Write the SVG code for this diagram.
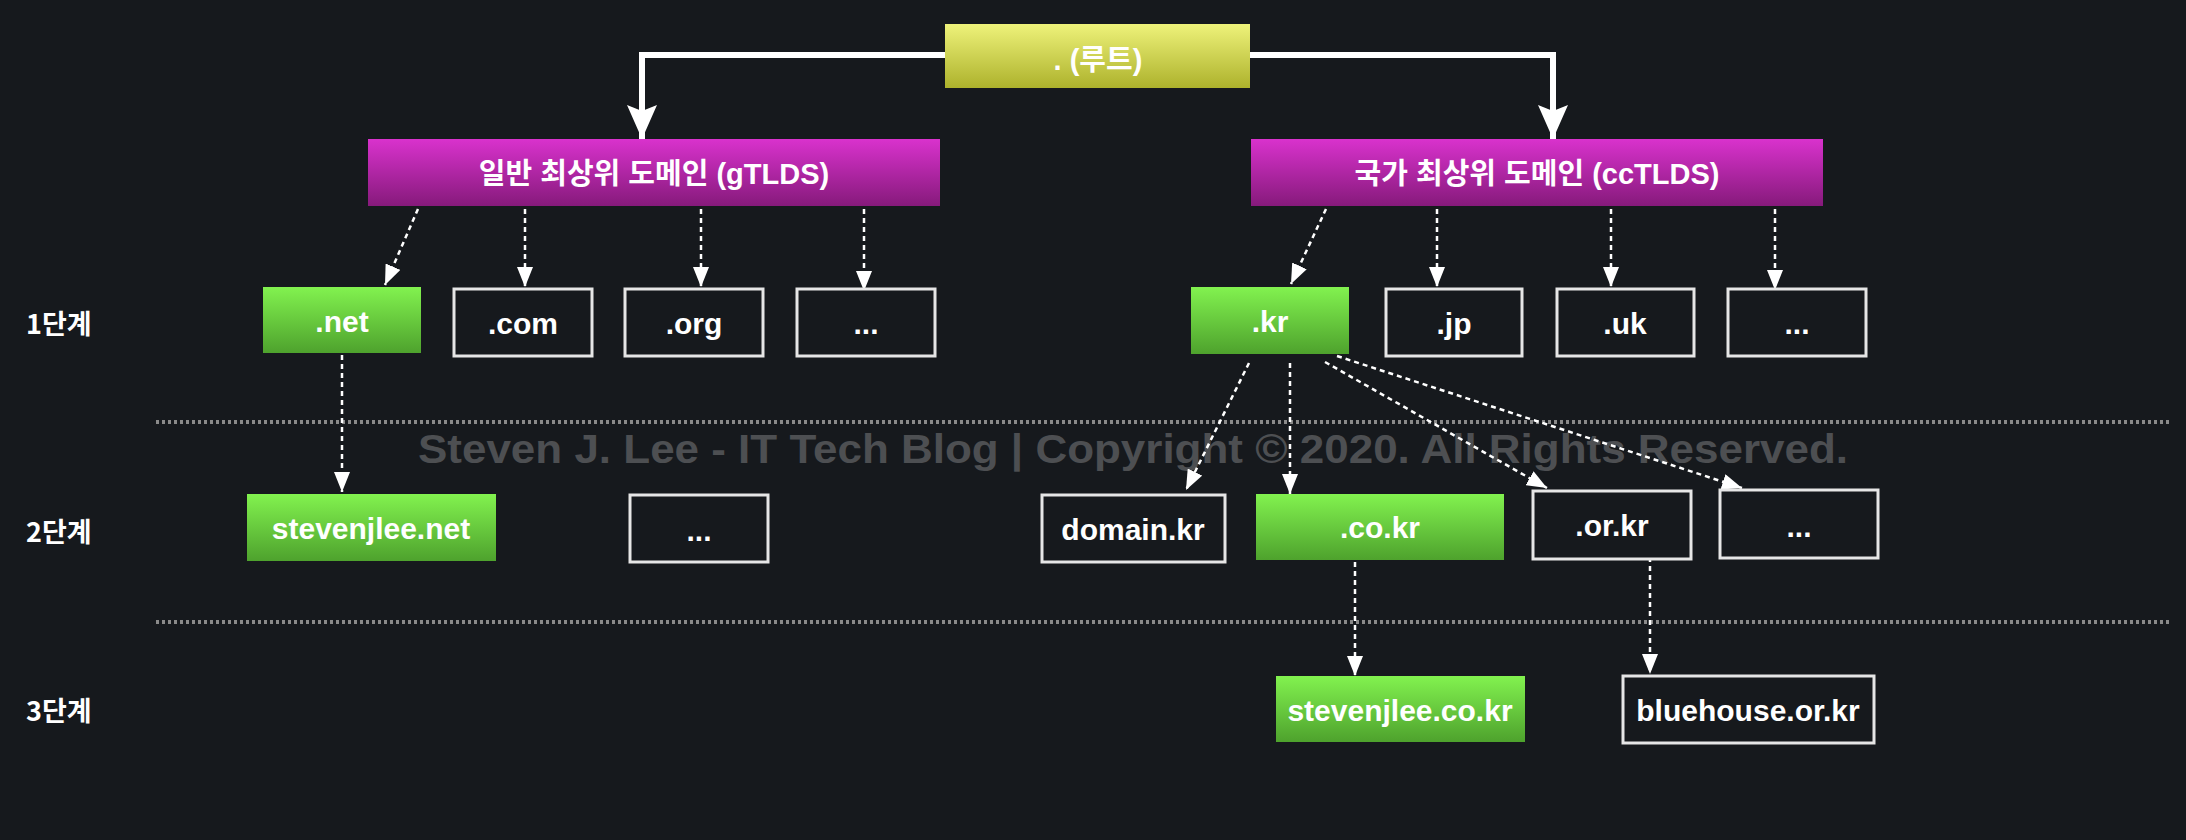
<svg xmlns="http://www.w3.org/2000/svg" width="2186" height="840" viewBox="0 0 2186 840">
<defs>
<linearGradient id="gY" x1="0" y1="0" x2="0" y2="1"><stop offset="0" stop-color="#eef27a"/><stop offset="1" stop-color="#adb22c"/></linearGradient>
<linearGradient id="gM" x1="0" y1="0" x2="0" y2="1"><stop offset="0" stop-color="#d932cd"/><stop offset="1" stop-color="#861a7b"/></linearGradient>
<linearGradient id="gG" x1="0" y1="0" x2="0" y2="1"><stop offset="0" stop-color="#82f24f"/><stop offset="1" stop-color="#4ea22d"/></linearGradient>
<marker id="big" markerUnits="userSpaceOnUse" markerWidth="34" markerHeight="40" refX="34" refY="17" orient="auto" viewBox="0 0 34 34"><path d="M0,2 L34,17 L0,32 L6,17 Z" fill="#ffffff"/></marker>
<marker id="sm" markerUnits="userSpaceOnUse" markerWidth="20" markerHeight="16" refX="20" refY="8" orient="auto" viewBox="0 0 20 16"><path d="M0,0 L20,8 L0,16 Z" fill="#ffffff"/></marker>
<style>
.bg{fill:#16191d}
.t{font-family:"Liberation Sans","Noto Sans CJK KR",Arial,sans-serif;font-weight:bold;fill:#ffffff;text-anchor:middle;dominant-baseline:central}
.lv{font-family:"Noto Sans CJK KR","Liberation Sans",sans-serif;font-weight:bold;fill:#ffffff;font-size:27px;dominant-baseline:central}
.out{fill:#16191d;stroke:#e6e6e6;stroke-width:3}
.grn{fill:url(#gG)}
.sep{stroke:#8a8a8a;stroke-width:4;stroke-dasharray:3 3;fill:none}
.dash{stroke:#ffffff;stroke-width:2.5;stroke-dasharray:5 4;fill:none;marker-end:url(#sm)}
.solid{stroke:#ffffff;stroke-width:6;fill:none;marker-end:url(#big)}
.wm{font-family:"Liberation Sans",Arial,sans-serif;font-weight:bold;fill:#4d4f52;font-size:40px}
</style>
</defs>
<rect class="bg" x="0" y="0" width="2186" height="840"/>

<g id="separators">
<line class="sep" x1="156" y1="422" x2="2170" y2="422"/>
<line class="sep" x1="156" y1="622" x2="2170" y2="622"/>
</g>

<g id="levels">
<text class="lv" x="26" y="322">1단계</text>
<text class="lv" x="26" y="530">2단계</text>
<text class="lv" x="26" y="709">3단계</text>
</g>

<text class="wm" x="418" y="463" textLength="1430" lengthAdjust="spacingAndGlyphs">Steven J. Lee - IT Tech Blog | Copyright © 2020. All Rights Reserved.</text>

<g id="connectors">
<path class="solid" d="M945,55 H642 V139"/>
<path class="solid" d="M1250,55 H1553 V139"/>
<line class="dash" x1="418" y1="209" x2="385" y2="285"/>
<line class="dash" x1="525" y1="209" x2="525" y2="287"/>
<line class="dash" x1="701" y1="209" x2="701" y2="287"/>
<line class="dash" x1="864" y1="209" x2="864" y2="291"/>
<line class="dash" x1="1326" y1="209" x2="1291" y2="284"/>
<line class="dash" x1="1437" y1="209" x2="1437" y2="287"/>
<line class="dash" x1="1611" y1="209" x2="1611" y2="287"/>
<line class="dash" x1="1775" y1="209" x2="1775" y2="290"/>
<line class="dash" x1="342" y1="355" x2="342" y2="492"/>
<line class="dash" x1="1249" y1="363" x2="1186" y2="490"/>
<line class="dash" x1="1290" y1="363" x2="1290" y2="494"/>
<line class="dash" x1="1325" y1="362" x2="1547" y2="488"/>
<line class="dash" x1="1337" y1="356" x2="1742" y2="488"/>
<line class="dash" x1="1355" y1="562" x2="1355" y2="676"/>
<line class="dash" x1="1650" y1="548" x2="1650" y2="674"/>
</g>

<g id="root"><rect x="945" y="24" width="305" height="64" fill="url(#gY)"/><text class="t" x="1098" y="60" font-size="29">. (루트)</text></g>
<g id="gtld"><rect x="368" y="139" width="572" height="67" fill="url(#gM)"/><text class="t" x="654" y="174" font-size="29">일반 최상위 도메인 (gTLDS)</text></g>
<g id="cctld"><rect x="1251" y="139" width="572" height="67" fill="url(#gM)"/><text class="t" x="1537" y="174" font-size="29">국가 최상위 도메인 (ccTLDS)</text></g>

<g id="net"><rect class="grn" x="263" y="287" width="158" height="66"/><text class="t" x="342" y="321" font-size="30">.net</text></g>
<g id="com"><rect class="out" x="454" y="289" width="138" height="67"/><text class="t" x="523" y="323" font-size="30">.com</text></g>
<g id="org"><rect class="out" x="625" y="289" width="138" height="67"/><text class="t" x="694" y="323" font-size="30">.org</text></g>
<g id="gdots"><rect class="out" x="797" y="289" width="138" height="67"/><text class="t" x="866" y="323" font-size="30">...</text></g>

<g id="kr"><rect class="grn" x="1191" y="287" width="158" height="67"/><text class="t" x="1270" y="321" font-size="30">.kr</text></g>
<g id="jp"><rect class="out" x="1386" y="289" width="136" height="67"/><text class="t" x="1454" y="323" font-size="30">.jp</text></g>
<g id="uk"><rect class="out" x="1557" y="289" width="137" height="67"/><text class="t" x="1625" y="323" font-size="30">.uk</text></g>
<g id="cdots"><rect class="out" x="1728" y="289" width="138" height="67"/><text class="t" x="1797" y="323" font-size="30">...</text></g>

<g id="stevenjleenet"><rect class="grn" x="247" y="494" width="249" height="67"/><text class="t" x="371" y="528" font-size="30">stevenjlee.net</text></g>
<g id="l2dots1"><rect class="out" x="630" y="495" width="138" height="67"/><text class="t" x="699" y="530" font-size="30">...</text></g>
<g id="domainkr"><rect class="out" x="1042" y="495" width="183" height="67"/><text class="t" x="1133" y="529" font-size="30">domain.kr</text></g>
<g id="cokr"><rect class="grn" x="1256" y="494" width="248" height="66"/><text class="t" x="1380" y="527" font-size="30">.co.kr</text></g>
<g id="orkr"><rect class="out" x="1533" y="491" width="158" height="68"/><text class="t" x="1612" y="525" font-size="30">.or.kr</text></g>
<g id="l2dots2"><rect class="out" x="1720" y="490" width="158" height="68"/><text class="t" x="1799" y="526" font-size="30">...</text></g>

<g id="stevenjleecokr"><rect class="grn" x="1276" y="676" width="249" height="66"/><text class="t" x="1400" y="710" font-size="30">stevenjlee.co.kr</text></g>
<g id="bluehouse"><rect class="out" x="1623" y="676" width="251" height="67"/><text class="t" x="1748" y="710" font-size="30">bluehouse.or.kr</text></g>
</svg>
